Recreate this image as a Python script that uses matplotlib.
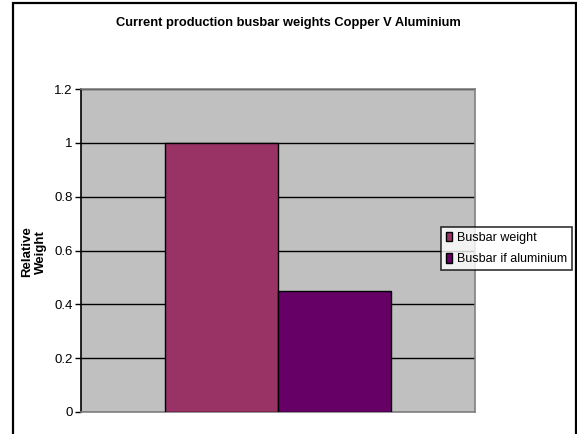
import matplotlib
matplotlib.use("Agg")
import matplotlib.pyplot as plt
from matplotlib.patches import Rectangle, Patch

plt.rcParams['font.family'] = ['Liberation Sans', 'DejaVu Sans']

title = "Current production busbar weights Copper V Aluminium"
series_names = ["Busbar weight", "Busbar if aluminium"]
series_values = [1.0, 0.45]
series_colors = ["#993366", "#660066"]
y_ticks = [0, 0.2, 0.4, 0.6, 0.8, 1, 1.2]
y_tick_labels = ["0", "0.2", "0.4", "0.6", "0.8", "1", "1.2"]

fig = plt.figure(figsize=(5.77, 4.34), dpi=100)
fig.patch.set_facecolor("white")

# chart frame
fig.add_artist(Rectangle((13 / 577, -0.05), (576 - 13) / 577, 1.05 - 3 / 434,
                         transform=fig.transFigure, fill=False,
                         edgecolor="black", linewidth=1.6, zorder=10))

ax = fig.add_axes([81 / 577, 1 - 412 / 434, (475 - 81) / 577, (412 - 89) / 434])
ax.set_facecolor("#C0C0C0")

bar_w = 0.288
offsets = [-bar_w / 2, bar_w / 2]
for name, val, col, off in zip(series_names, series_values, series_colors, offsets):
    ax.bar(off, val, width=bar_w, color=col, edgecolor="black", linewidth=1.0,
           label=name, zorder=3)

ax.set_xlim(-0.5, 0.5)
ax.set_ylim(0, 1.2)
ax.set_yticks(y_ticks)
ax.set_yticklabels(y_tick_labels, fontsize=9.5)
ax.set_xticks([])
ax.yaxis.grid(True, color="black", linewidth=1.0, zorder=1)
ax.set_axisbelow(True)
ax.tick_params(axis="y", direction="out", length=4, width=1, colors="black", pad=2)

for side in ("top", "right", "bottom"):
    ax.spines[side].set_color("#808080")
    ax.spines[side].set_linewidth(1.2)
ax.spines["left"].set_color("black")
ax.spines["left"].set_linewidth(1.2)

fig.text(0.5, 1 - 23 / 434, title, ha="center", va="center",
         fontsize=9.3, fontweight="bold")
fig.text(34 / 577, 1 - 252 / 434, "Relative\nWeight", ha="center", va="center",
         rotation=90, fontsize=9.5, fontweight="bold", linespacing=1.25)

handles = [Patch(facecolor=c, edgecolor="black", linewidth=1.0) for c in series_colors]
leg = fig.legend(handles, series_names, loc="upper left",
                 bbox_to_anchor=(441 / 577, 1 - 227 / 434), bbox_transform=fig.transFigure,
                 fontsize=9.0, frameon=True, fancybox=False, borderpad=0.4,
                 handlelength=0.5, handleheight=0.75, handletextpad=0.4,
                 labelspacing=0.75, borderaxespad=0)
leg.get_frame().set_edgecolor("black")
leg.get_frame().set_linewidth(1.2)
leg.get_frame().set_facecolor("white")

fig.savefig("out.png", dpi=100)
